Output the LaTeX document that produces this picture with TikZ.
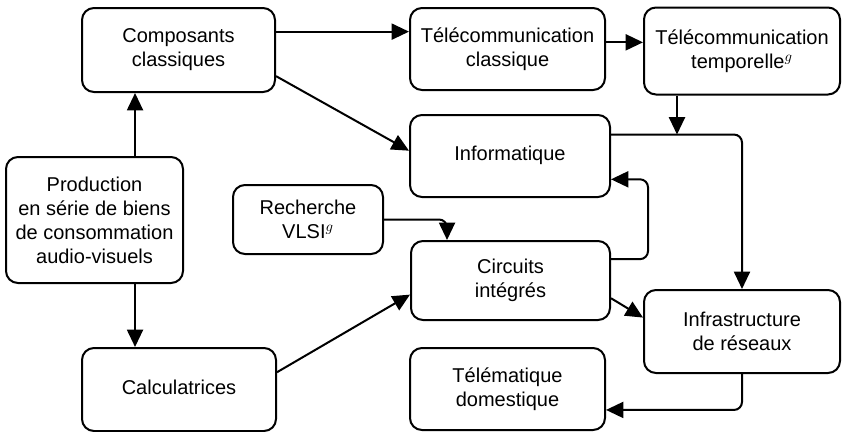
\documentclass[tikz,border=0pt]{standalone}
\usepackage{fontspec}
\setmainfont{Liberation Sans}
\usetikzlibrary{arrows.meta,positioning}

\begin{document}
\begin{tikzpicture}[x=0.75pt,y=-0.75pt]
    \tikzset{block/.style= {draw, rectangle
    , rounded corners=9pt
    , line width=1.5pt
    , align=center
    , inner sep=0pt
    , font=\fontsize{15}{18}\selectfont
      }
    , flow/.style= {draw, line width=1.5pt, rounded corners=6pt
    , -{Triangle[length=13pt,width=12pt]}
      }
    }
\useasboundingbox (0,0) rectangle (843,432);

\node [block, minimum width=144.75pt, minimum height=63pt] (comp) at (178.5,50) {Composants\\classiques};
\node [block, minimum width=146.25pt, minimum height=61.5pt] (tcl) at (507.5,49) {Télécommunication\\classique};
\node [block, minimum width=147pt, minimum height=65.25pt] (ttemp) at (742,51) {Télécommunication\\temporelle$^{g}$};
\node [block, minimum width=150pt, minimum height=61.5pt] (info) at (510,156) {\raisebox{4.5pt}{Informatique}};
\node [block, minimum width=132.75pt, minimum height=94.5pt] (prod) at (94.5,220) {Production\\en série de biens\\de consommation\\audio-visuels};
\node [block, minimum width=112.5pt, minimum height=51.75pt] (rech) at (308,219.5) {Recherche\\VLSI$^{g}$};
\node [block, minimum width=149.25pt, minimum height=59.25pt] (circ) at (510.5,280.5) {Circuits\\intégrés};
\node [block, minimum width=147pt, minimum height=62.25pt] (infra) at (742,331.5) {Infrastructure\\de réseaux};
\node [block, minimum width=146.25pt, minimum height=61.5pt] (tele) at (507.5,389) {Télématique\\domestique};
\node [block, minimum width=145.5pt, minimum height=62.25pt] (calc) at (179,389.5) {\raisebox{3pt}{Calculatrices}};

 \path[flow] (comp.east |- tcl.170) -- (tcl.170);
 \path[flow] (tcl.east |- ttemp.175) -- (ttemp.175);
 \path[flow] (comp.345) -- (info.177);
 \path[flow] ([xshift=30.4pt]prod.north) -- ([xshift=30.4pt]prod.north |- comp.south);
 \path[flow] ([xshift=30.4pt]prod.south) -- ([xshift=30.4pt]prod.south |- calc.north);
 \path[flow] ([xshift=-48.75pt]ttemp.south) -- ([xshift=-48.75pt]ttemp.south |- info.12);
 \path[flow] (info.12) -| (infra.north);
 \path[flow] (circ.12) -- ++(37,0) |- (info.347);
 \path[flow] (rech.east) -| ([xshift=-47.6pt]circ.north);
 \path[flow] (calc.10) -- (circ.188);
 \path[flow] (circ.350) -- (infra.172);
 \path[flow] (infra.south) |- (tele.348);
\end{tikzpicture}
\end{document}
